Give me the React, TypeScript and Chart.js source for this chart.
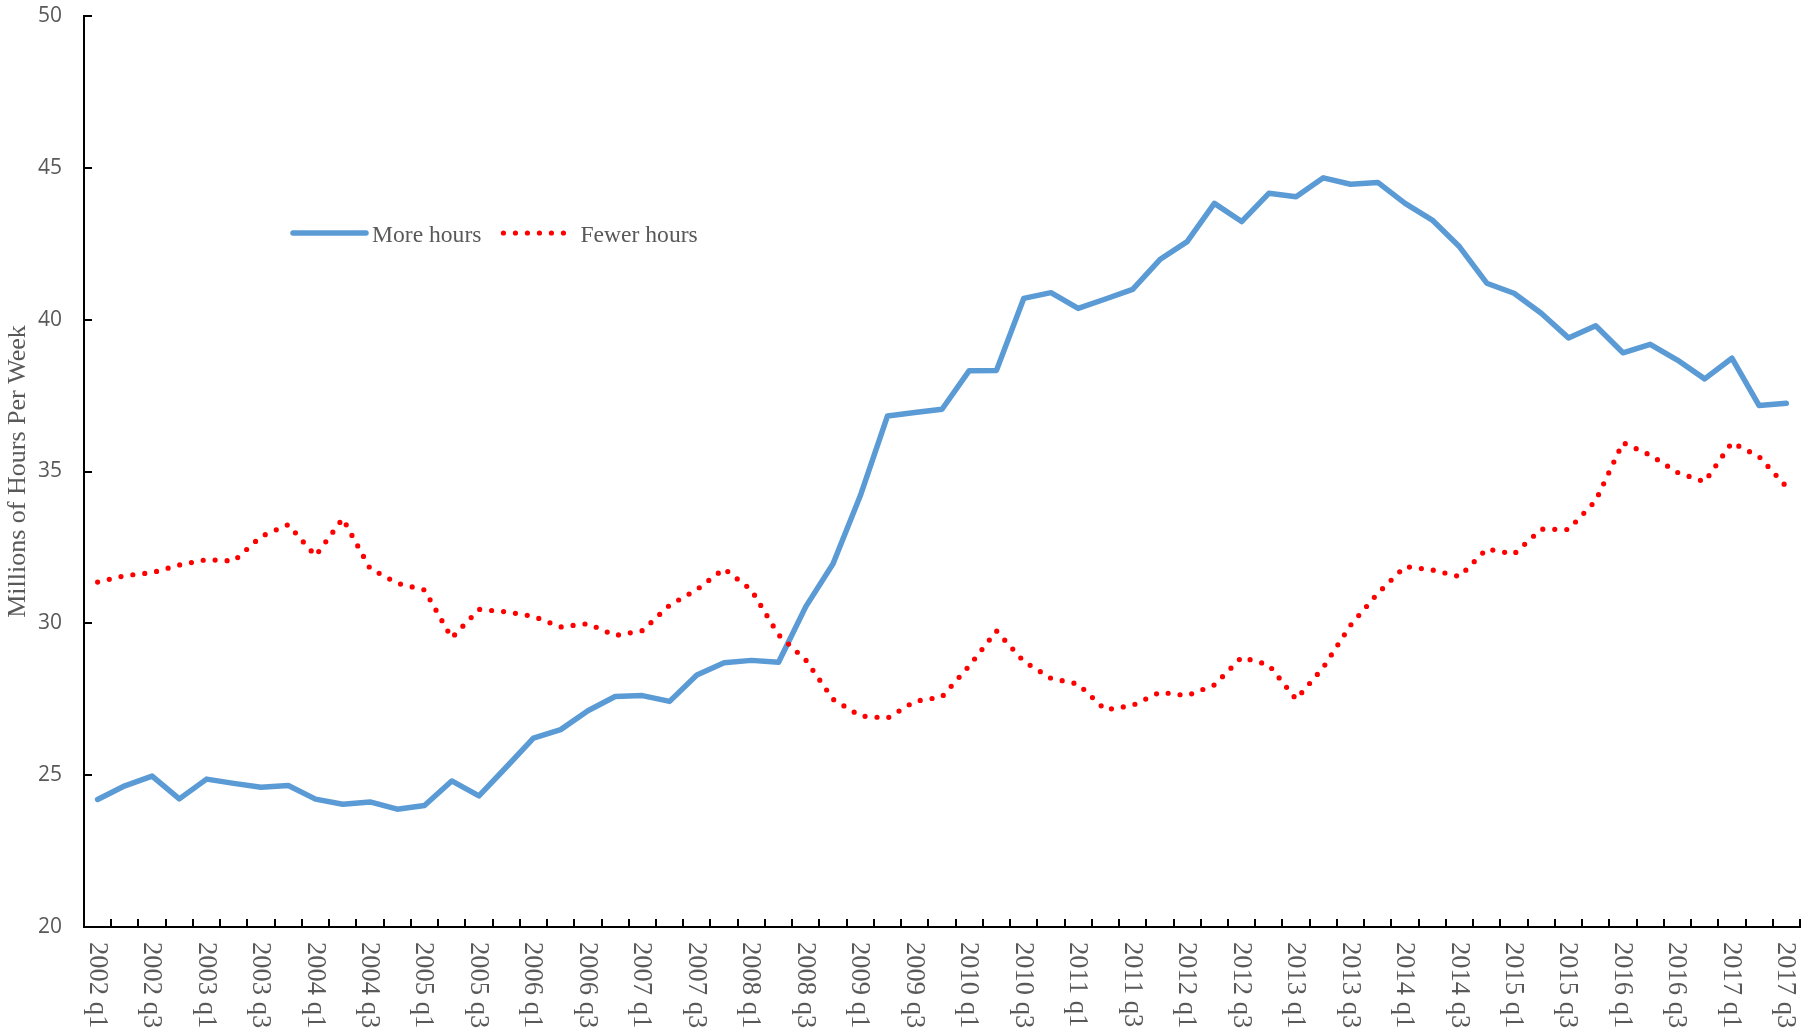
import React, { useEffect, useRef } from 'react';
import { Chart, registerables } from 'chart.js';

Chart.register(...registerables);

const quarters: string[] = [
  '2002 q1', '2002 q2', '2002 q3', '2002 q4',
  '2003 q1', '2003 q2', '2003 q3', '2003 q4',
  '2004 q1', '2004 q2', '2004 q3', '2004 q4',
  '2005 q1', '2005 q2', '2005 q3', '2005 q4',
  '2006 q1', '2006 q2', '2006 q3', '2006 q4',
  '2007 q1', '2007 q2', '2007 q3', '2007 q4',
  '2008 q1', '2008 q2', '2008 q3', '2008 q4',
  '2009 q1', '2009 q2', '2009 q3', '2009 q4',
  '2010 q1', '2010 q2', '2010 q3', '2010 q4',
  '2011 q1', '2011 q2', '2011 q3', '2011 q4',
  '2012 q1', '2012 q2', '2012 q3', '2012 q4',
  '2013 q1', '2013 q2', '2013 q3', '2013 q4',
  '2014 q1', '2014 q2', '2014 q3', '2014 q4',
  '2015 q1', '2015 q2', '2015 q3', '2015 q4',
  '2016 q1', '2016 q2', '2016 q3', '2016 q4',
  '2017 q1', '2017 q2', '2017 q3',
];

const moreHours: number[] = [
  24.2, 24.65, 24.97, 24.22, 24.87, 24.73, 24.6, 24.66,
  24.21, 24.04, 24.12, 23.88, 24.0, 24.81, 24.32, 25.26,
  26.22, 26.5, 27.12, 27.59, 27.62, 27.43, 28.3, 28.7,
  28.78, 28.72, 30.55, 31.96, 34.2, 36.83, 36.94, 37.05,
  38.32, 38.33, 40.7, 40.89, 40.37, 40.68, 41.0, 41.98,
  42.57, 43.83, 43.23, 44.16, 44.05, 44.67, 44.46, 44.52,
  43.83, 43.28, 42.4, 41.2, 40.87, 40.21, 39.4, 39.8,
  38.91, 39.19, 38.67, 38.05, 38.73, 37.17, 37.25,
];

const fewerHours: number[] = [
  31.36, 31.57, 31.67, 31.92, 32.1, 32.05, 32.86, 33.25,
  32.22, 33.45, 31.81, 31.32, 31.1, 29.52, 30.46, 30.38,
  30.23, 29.88, 29.99, 29.6, 29.76, 30.6, 31.11, 31.8,
  31.1, 29.62, 28.79, 27.5, 26.95, 26.88, 27.43, 27.58,
  28.6, 29.75, 28.75, 28.19, 28.0, 27.15, 27.3, 27.73,
  27.62, 27.97, 28.88, 28.63, 27.5, 28.55, 29.94, 30.99,
  31.87, 31.76, 31.54, 32.45, 32.28, 33.1, 33.09, 34.04,
  35.95, 35.54, 34.97, 34.66, 35.95, 35.49, 34.5,
];

const yTickValues: number[] = [20, 25, 30, 35, 40, 45, 50];
const seriesNames: string[] = ['More hours', 'Fewer hours'];
const yAxisTitle = 'Millions of Hours Per Week';

const BLUE = '#5B9BD5';
const RED = '#FF0000';
const TEXT = '#595959';
const SERIF = "'Liberation Serif', 'Times New Roman', serif";
const SANS = "'Open Sans', sans-serif";

const decorPlugin = {
  id: 'decor',
  afterDraw(chart: any) {
    const ctx = chart.ctx as CanvasRenderingContext2D;
    const xs = chart.scales.x;
    const ys = chart.scales.y;
    const area = chart.chartArea;
    ctx.save();

    // inward tick marks
    ctx.strokeStyle = '#000';
    ctx.lineWidth = 2;
    ctx.beginPath();
    const n = quarters.length;
    const step = (xs.right - xs.left) / n;
    for (let k = 0; k <= n; k++) {
      const x = Math.round(xs.left + k * step);
      ctx.moveTo(x, area.bottom);
      ctx.lineTo(x, area.bottom - 8);
    }
    yTickValues.forEach((v) => {
      const y = Math.round(ys.getPixelForValue(v));
      ctx.moveTo(area.left, y);
      ctx.lineTo(area.left + 8, y);
    });
    ctx.stroke();

    // x labels, rotated clockwise
    ctx.fillStyle = TEXT;
    ctx.font = `26.5px ${SERIF}`;
    ctx.textAlign = 'left';
    ctx.textBaseline = 'alphabetic';
    quarters.forEach((lab, i) => {
      if (i % 2 !== 0) return;
      const c = xs.getPixelForValue(i);
      ctx.save();
      ctx.translate(c - 8, area.bottom + 15);
      ctx.rotate(Math.PI / 2);
      ctx.fillText(lab, 0, 0);
      ctx.restore();
    });

    // y axis title
    ctx.font = `26px ${SERIF}`;
    ctx.textAlign = 'center';
    ctx.save();
    ctx.translate(25, (area.top + area.bottom) / 2);
    ctx.rotate(-Math.PI / 2);
    ctx.fillText(yAxisTitle, 0, 0);
    ctx.restore();

    // legend
    const ds = chart.data.datasets;
    ctx.font = `23.6px ${SERIF}`;
    ctx.textAlign = 'left';
    const ly = area.top + 217;
    let x = area.left + 209;
    const lens = [73, 63.4];
    const gapAfterLine = [6, 13.6];
    ds.forEach((d: any, i: number) => {
      ctx.save();
      ctx.strokeStyle = d.borderColor;
      ctx.lineWidth = d.borderWidth;
      ctx.lineCap = 'round';
      ctx.setLineDash(d.borderDash || []);
      ctx.beginPath();
      ctx.moveTo(x, ly);
      ctx.lineTo(x + lens[i], ly);
      ctx.stroke();
      ctx.restore();
      const tx = x + lens[i] + gapAfterLine[i];
      ctx.fillStyle = TEXT;
      ctx.fillText(d.label, tx, ly + 8.5);
      x = tx + ctx.measureText(d.label).width + 22;
    });

    ctx.restore();
  },
};

export default function App() {
  const canvasRef = useRef<HTMLCanvasElement | null>(null);

  useEffect(() => {
    document.body.style.margin = '0';
    const canvas = canvasRef.current;
    if (!canvas) return;
    const chart = new Chart(canvas, {
      type: 'line',
      data: {
        labels: quarters,
        datasets: [
          {
            label: seriesNames[0],
            data: moreHours,
            borderColor: BLUE,
            backgroundColor: BLUE,
            borderWidth: 5.5,
            borderCapStyle: 'round',
            borderJoinStyle: 'round',
            pointRadius: 0,
            tension: 0,
            order: 1,
          },
          {
            label: seriesNames[1],
            data: fewerHours,
            borderColor: RED,
            backgroundColor: RED,
            borderWidth: 5.2,
            borderDash: [0, 12],
            borderCapStyle: 'round',
            borderJoinStyle: 'round',
            pointRadius: 0,
            tension: 0,
            order: 0,
          },
        ],
      },
      options: {
        animation: false,
        responsive: false,
        devicePixelRatio: 1,
        layout: { padding: { top: 16, right: 1, bottom: 0, left: 0 } },
        plugins: {
          legend: { display: false },
          tooltip: { enabled: false },
        },
        scales: {
          x: {
            type: 'category',
            offset: true,
            grid: { display: false, drawTicks: false, offset: true },
            border: { display: true, color: '#000', width: 2 },
            ticks: { display: false },
            afterFit: (scale: any) => {
              scale.height = 107;
              scale.paddingLeft = 0;
              scale.paddingRight = 0;
            },
          },
          y: {
            min: 20,
            max: 50,
            grid: { display: false, drawTicks: false },
            border: { display: true, color: '#000', width: 2 },
            ticks: {
              stepSize: 5,
              padding: 22,
              color: TEXT,
              font: { family: SANS, size: 21 },
            },
            afterFit: (scale: any) => {
              scale.width = 84;
              scale.paddingTop = 0;
              scale.paddingBottom = 0;
            },
          },
        },
      },
      plugins: [decorPlugin],
    } as any);
    return () => chart.destroy();
  }, []);

  return (
    <canvas
      ref={canvasRef}
      width={1801}
      height={1034}
      style={{ display: 'block', width: '1801px', height: '1034px' }}
    />
  );
}
